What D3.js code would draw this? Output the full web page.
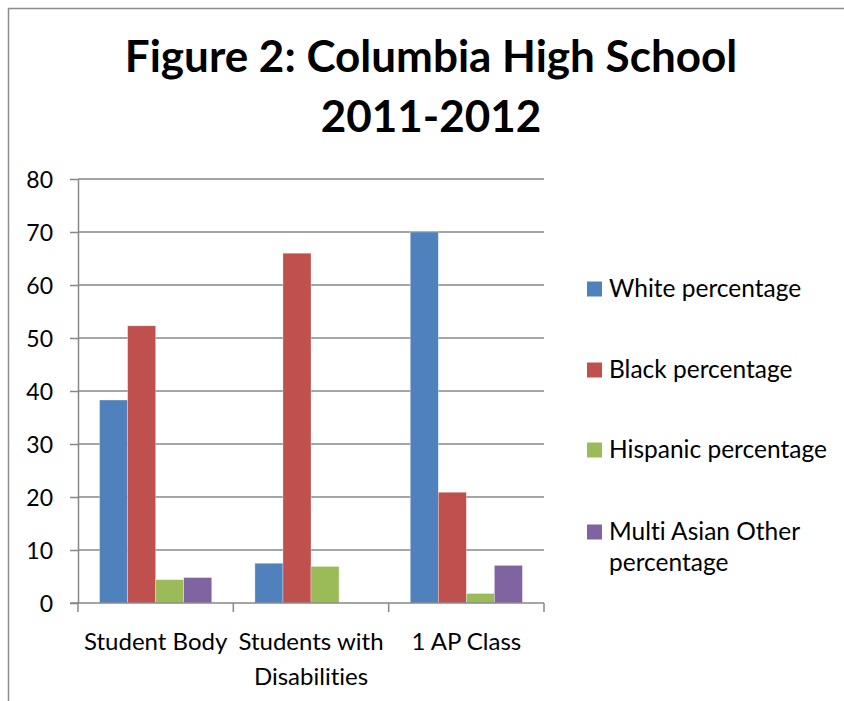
<!DOCTYPE html>
<html lang="en">
<head>
    <meta charset="UTF-8">
    <title>Columbia High School 2011-2012</title>
    <script src="https://d3js.org/d3.v7.min.js"></script>
    <style>
        body{
            margin: 0;
            background: #ffffff;
        }
        text{
            font-family: Lato, "Open Sans", sans-serif;
            font-variant-ligatures: none;
            fill: #000000;
        }
        .grid line, .axis line, .axis path{
            stroke: #878787;
            stroke-width: 1.5px;
        }
    </style>
</head>
<body>
<svg width="844" height="701" id="main"></svg>

<script>
    let categories = ["Student Body", "Students with Disabilities", "1 AP Class"]
    let category_lines = [["Student Body"], ["Students with", "Disabilities"], ["1 AP Class"]]
    let series = ["White percentage", "Black percentage", "Hispanic percentage", "Multi Asian Other percentage"]
    let legend_lines = [["White percentage"], ["Black percentage"], ["Hispanic percentage"], ["Multi Asian Other", "percentage"]]
    let white = [38.3, 7.5, 70.0]
    let black = [52.3, 66.0, 20.9]
    let hispanic = [4.4, 6.9, 1.8]
    let multi = [4.8, 0, 7.1]
    let y_ticks = [0, 10, 20, 30, 40, 50, 60, 70, 80]
    let colors = ["#4F81BD", "#C0504D", "#9BBB59", "#8064A2"]

    let values = [white, black, hispanic, multi]

    let svg = d3.select("#main")

    // outer chart frame (only top and left edges are visible)
    svg.append("path")
        .attr("d", "M8.5,701 V8.5 H844")
        .attr("fill", "none")
        .attr("stroke", "#8c8c8c")
        .attr("stroke-width", 1.5)

    // title
    let title = svg.append("text")
        .attr("text-anchor", "middle")
        .style("font-weight", "bold")
        .style("font-size", "44px")
    title.append("tspan").attr("x", 431).attr("y", 72).text("Figure 2: Columbia High School")
    title.append("tspan").attr("x", 431).attr("y", 132).text("2011-2012")

    let plot_left = 78, plot_right = 544, plot_top = 179, plot_bottom = 603

    let x0 = d3.scaleBand()
        .domain(categories)
        .range([plot_left, plot_right])
        .padding(0)
    let x1 = d3.scaleBand()
        .domain(series)
        .range([0, x0.bandwidth()])
        .paddingInner(0)
        .paddingOuter(0.77)
    let y = d3.scaleLinear()
        .domain([0, 80])
        .range([plot_bottom, plot_top])

    // gridlines
    svg.append("g")
        .attr("class", "grid")
        .selectAll("line")
        .data(y_ticks.slice(1))
        .join("line")
        .attr("x1", plot_left)
        .attr("x2", plot_right)
        .attr("y1", d => y(d))
        .attr("y2", d => y(d))

    // bars
    let groups = svg.append("g")
        .selectAll("g")
        .data(categories)
        .join("g")
        .attr("transform", d => "translate(" + x0(d) + ",0)")
    groups.selectAll("rect")
        .data((c, ci) => series.map((s, si) => ({s: s, si: si, v: values[si][ci]})).filter(d => d.v > 0))
        .join("rect")
        .attr("x", d => x1(d.s))
        .attr("width", x1.bandwidth())
        .attr("y", d => y(d.v))
        .attr("height", d => y(0) - y(d.v))
        .attr("fill", d => colors[d.si])
        .attr("stroke", "#ffffff")
        .attr("stroke-opacity", 0.5)
        .attr("stroke-width", 0.6)

    // y axis
    let yAxis = svg.append("g")
        .attr("class", "axis")
        .attr("transform", "translate(" + plot_left + ",0)")
        .call(d3.axisLeft(y).tickValues(y_ticks).tickSize(8).tickSizeOuter(0).tickPadding(17))
    yAxis.selectAll("text")
        .style("font-size", "23px")
        .attr("dy", "0.36em")

    // x axis
    let xAxis = svg.append("g")
        .attr("class", "axis")
        .attr("transform", "translate(0," + plot_bottom + ")")
    xAxis.append("line")
        .attr("x1", plot_left - 8)
        .attr("x2", plot_right)
        .attr("y1", 0)
        .attr("y2", 0)
    xAxis.selectAll(".tick")
        .data(categories.map(c => x0(c)).concat([plot_right]))
        .join("line")
        .attr("class", "tick")
        .attr("x1", d => d)
        .attr("x2", d => d)
        .attr("y1", 0)
        .attr("y2", 9)
    xAxis.selectAll(".label")
        .data(categories)
        .join("text")
        .attr("class", "label")
        .attr("text-anchor", "middle")
        .style("font-size", "24px")
        .each(function (c, i) {
            let t = d3.select(this)
            category_lines[i].forEach((line, li) => {
                t.append("tspan")
                    .attr("x", x0(c) + x0.bandwidth() / 2)
                    .attr("y", 47 + li * 35)
                    .text(line)
            })
        })

    // legend
    let legend_y = [289, 370, 450, 532]
    let legend = svg.append("g")
        .selectAll("g")
        .data(series)
        .join("g")
        .attr("transform", (d, i) => "translate(587," + legend_y[i] + ")")
    legend.append("rect")
        .attr("x", 0)
        .attr("y", -7.5)
        .attr("width", 15)
        .attr("height", 15)
        .attr("fill", (d, i) => colors[i])
    legend.append("text")
        .style("font-size", "24.5px")
        .each(function (d, i) {
            let t = d3.select(this)
            legend_lines[i].forEach((line, li) => {
                t.append("tspan")
                    .attr("x", 22)
                    .attr("y", 8 + li * 31)
                    .text(line)
            })
        })
</script>
</body>
</html>
